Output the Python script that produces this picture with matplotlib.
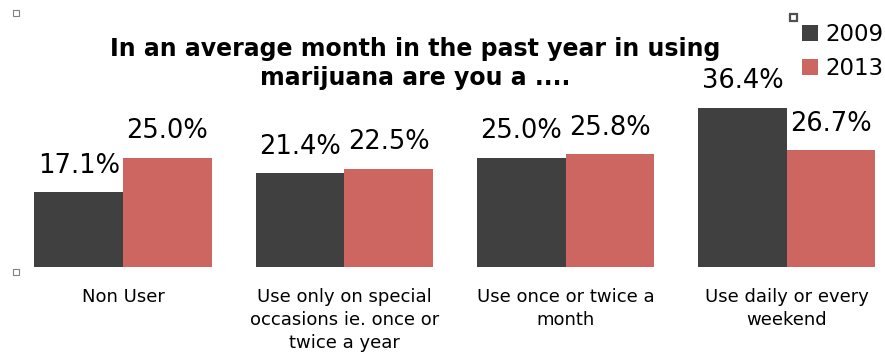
import numpy as np
import matplotlib.pyplot as plt
from matplotlib.patches import Rectangle

# survey answers, percent of respondents
categories = ['Non User', 'Use only on special\noccasions ie. once or\ntwice a year',
              'Use once or twice a\nmonth', 'Use daily or every\nweekend']
years = ['2009', '2013']
share_2009 = [17.1, 21.4, 25.0, 36.4]
share_2013 = [25.0, 22.5, 25.8, 26.7]
colors = ['#404040', '#CD6660']
title_lines = ['In an average month in the past year in using', 'marijuana are you a ....']

W, H = 885, 358
fig = plt.figure(figsize=(W / 100, H / 100), dpi=100)

# axes spans from x=12px to the right edge, baseline at y=267px
ax = fig.add_axes([12 / W, 1 - 267 / H, (W - 12) / W, 207 / H])
x = np.arange(len(categories))
width = 0.4
step = 221.3  # pixels between group centres
ax.set_xlim((12 - 123) / step, (W - 123) / step)
ax.set_ylim(0, 207 / 4.37)

for k, (vals, yr) in enumerate(zip([share_2009, share_2013], years)):
    xs = x + (k - 0.5) * width
    bars = ax.bar(xs, vals, width, color=colors[k], label=yr)
    for xi, v in zip(xs, vals):
        ax.annotate(f'{v:.1f}%', (xi, v), xytext=(0, 14), textcoords='offset points',
                    ha='center', va='baseline', fontsize=18.5)

ax.set_xticks(x)
ax.set_xticklabels(categories, fontsize=13, linespacing=1.38, va='top')
ax.tick_params(axis='x', length=0, pad=15)
ax.set_yticks([])
for s in ax.spines.values():
    s.set_visible(False)

# title, one text per line
for line, ypx in zip(title_lines, [56, 85]):
    fig.text(415 / W, 1 - ypx / H, line, ha='center', va='baseline',
             fontsize=17, fontweight='bold')

leg = fig.legend(loc='upper left', bbox_to_anchor=(802 / W, 1 - 23 / H), frameon=False,
                 fontsize=16.5, handlelength=0.7, handleheight=0.7, handletextpad=0.3,
                 labelspacing=0.5, borderpad=0, borderaxespad=0)

# little selection handles
fig.add_artist(Rectangle((13 / W, 1 - 16 / H), 6 / W, 6 / H, transform=fig.transFigure,
                         fill=False, ec='#808080', lw=0.8))
fig.add_artist(Rectangle((13 / W, 1 - 275 / H), 6 / W, 6 / H, transform=fig.transFigure,
                         fill=False, ec='#808080', lw=0.8))
fig.add_artist(Rectangle((790 / W, 1 - 21 / H), 7 / W, 7 / H, transform=fig.transFigure,
                         fill=False, ec='#505050', lw=1.6))

fig.savefig('out.png', dpi=100)
